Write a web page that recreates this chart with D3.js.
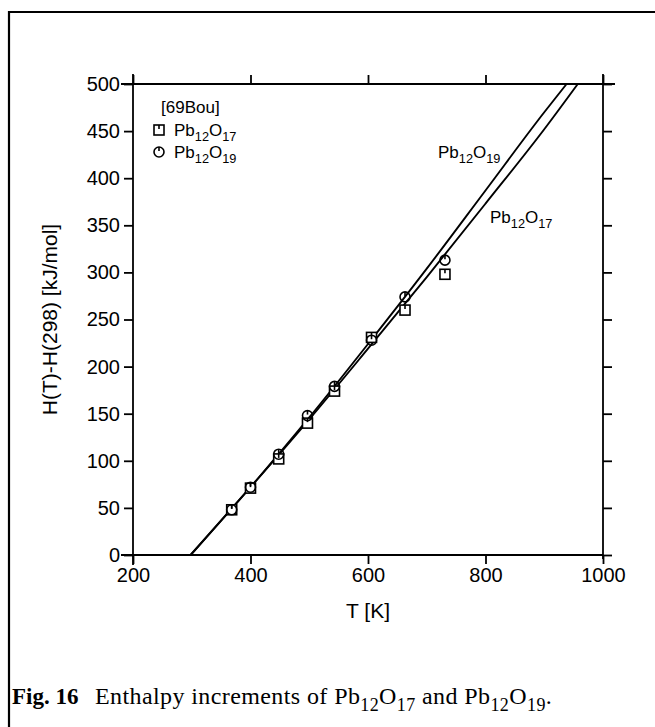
<!DOCTYPE html>
<html>
<head>
<meta charset="utf-8">
<script src="https://cdn.jsdelivr.net/npm/d3@7"></script>
<style>
  html, body { margin: 0; padding: 0; background: #fff; }
  svg { display: block; }
</style>
</head>
<body>
<div id="chart"></div>
<script>
// measured points [69Bou]
const tPoints = [368, 400, 448, 497, 543, 606, 663, 731];
const hPb12O17 = [48, 71, 102, 140, 174, 231, 260, 298];
const hPb12O19 = [48, 72, 107, 148, 179, 228, 274, 313];

// fitted curves
const tLine17 = [298, 400, 500, 600, 700, 800, 900, 957];
const hLine17 = [0, 72, 144, 219, 295, 373, 452, 500];
const tLine19 = [298, 400, 500, 600, 700, 800, 900, 938];
const hLine19 = [0, 72, 146, 224, 304, 387, 470, 500];

const xTicks = [200, 400, 600, 800, 1000];
const yTicks = [0, 50, 100, 150, 200, 250, 300, 350, 400, 450, 500];

const W = 655, H = 727;
const margin = {top: 84, right: 52, bottom: 172, left: 133};

const svg = d3.select("#chart").append("svg")
    .attr("width", W)
    .attr("height", H)
    .style("font-family", "Arial, 'Liberation Sans', sans-serif");

// outer frame of the figure (left and top only)
svg.append("path")
    .attr("d", `M9,${H} L9,12 L${W},12`)
    .attr("fill", "none")
    .attr("stroke", "#000")
    .attr("stroke-width", 2.2);

const x = d3.scaleLinear().domain([200, 1000]).range([margin.left, W - margin.right]);
const y = d3.scaleLinear().domain([0, 500]).range([H - margin.bottom, margin.top]);

const x0 = x.range()[0], x1 = x.range()[1];
const y0 = y.range()[0], y1 = y.range()[1];

// axes on all four sides, ticks outward
svg.append("g")
    .attr("transform", `translate(0,${y0})`)
    .call(d3.axisBottom(x).tickValues(xTicks).tickSize(9).tickPadding(4).tickFormat(d3.format("d")))
    .call(g => g.select(".domain").attr("d", `M${x0 - 12},0H${x1}`));

svg.append("g")
    .attr("transform", `translate(0,${y1})`)
    .call(d3.axisTop(x).tickValues(xTicks).tickSize(9).tickFormat(""))
    .call(g => g.select(".domain").attr("d", `M${x0 - 12},0H${x1 + 12}`));

svg.append("g")
    .attr("transform", `translate(${x0},0)`)
    .call(d3.axisLeft(y).tickValues(yTicks).tickSize(9).tickPadding(4))
    .call(g => g.select(".domain").attr("d", `M0,${y1 - 10}V${y0 + 10}`));

svg.append("g")
    .attr("transform", `translate(${x1},0)`)
    .call(d3.axisRight(y).tickValues(yTicks).tickSize(9).tickFormat(""))
    .call(g => g.select(".domain").attr("d", `M0,${y1 - 10}V${y0 + 4}`));

svg.selectAll(".domain, .tick line")
    .attr("stroke", "#000")
    .attr("stroke-width", 1.8);
svg.selectAll(".tick text")
    .attr("fill", "#000")
    .style("font-size", "20px")
    .style("font-family", "Arial, 'Liberation Sans', sans-serif");

// axis titles
svg.append("text")
    .attr("x", (x0 + x1) / 2)
    .attr("y", y0 + 63)
    .attr("text-anchor", "middle")
    .style("font-size", "21px")
    .text("T [K]");

svg.append("text")
    .attr("transform", `translate(57,${(y0 + y1) / 2}) rotate(-90)`)
    .attr("text-anchor", "middle")
    .style("font-size", "21px")
    .text("H(T)-H(298) [kJ/mol]");

// chemical formula with subscripts
function formula(sel, parts, size) {
  let back = 0;
  parts.forEach(([txt, sub]) => {
    sel.append("tspan").text(txt)
        .attr("dy", back)
        .style("font-size", size + "px");
    sel.append("tspan")
        .text(sub)
        .attr("dy", size * 0.3)
        .style("font-size", (size * 0.75) + "px");
    back = -size * 0.3;
  });
  return back;
}

const line = d3.line()
    .x(d => x(d[0]))
    .y(d => y(d[1]))
    .curve(d3.curveMonotoneX);

svg.append("path")
    .attr("d", line(d3.zip(tLine17, hLine17)))
    .attr("fill", "none")
    .attr("stroke", "#000")
    .attr("stroke-width", 1.9);

svg.append("path")
    .attr("d", line(d3.zip(tLine19, hLine19)))
    .attr("fill", "none")
    .attr("stroke", "#000")
    .attr("stroke-width", 1.9);

// markers
function square(g, cx, cy) {
  g.append("rect")
      .attr("x", cx - 5).attr("y", cy - 5)
      .attr("width", 10).attr("height", 10)
      .attr("fill", "#fff").attr("stroke", "#000").attr("stroke-width", 1.6);
  g.append("line")
      .attr("x1", cx).attr("x2", cx).attr("y1", cy - 5).attr("y2", cy - 1)
      .attr("stroke", "#000").attr("stroke-width", 1.6);
}
function circle(g, cx, cy) {
  g.append("circle")
      .attr("cx", cx).attr("cy", cy).attr("r", 5)
      .attr("fill", "none").attr("stroke", "#000").attr("stroke-width", 1.6);
  g.append("line")
      .attr("x1", cx).attr("x2", cx).attr("y1", cy - 5).attr("y2", cy - 1)
      .attr("stroke", "#000").attr("stroke-width", 1.6);
}

const pts = svg.append("g");
tPoints.forEach((t, i) => square(pts, x(t), y(hPb12O17[i])));
tPoints.forEach((t, i) => circle(pts, x(t), y(hPb12O19[i])));

// curve labels
svg.append("text").attr("x", 438).attr("y", 158)
    .call(formula, [["Pb", "12"], ["O", "19"]], 17);
svg.append("text").attr("x", 490).attr("y", 223)
    .call(formula, [["Pb", "12"], ["O", "17"]], 17);

// legend
svg.append("text").attr("x", 161).attr("y", 113)
    .style("font-size", "17px")
    .text("[69Bou]");
const leg = svg.append("g");
square(leg, 159, 130);
circle(leg, 159, 152);
svg.append("text").attr("x", 174).attr("y", 136)
    .call(formula, [["Pb", "12"], ["O", "17"]], 17);
svg.append("text").attr("x", 174).attr("y", 158)
    .call(formula, [["Pb", "12"], ["O", "19"]], 17);

// caption
const cap = svg.append("text")
    .attr("x", 12).attr("y", 704)
    .style("font-family", "'Liberation Serif', 'Times New Roman', serif")
    .style("font-size", "23px");
cap.append("tspan").style("font-weight", "bold").text("Fig. 16");
const capBody = svg.append("text")
    .attr("x", 95).attr("y", 704)
    .style("font-family", "'Liberation Serif', 'Times New Roman', serif")
    .style("font-size", "24px")
    .style("letter-spacing", "0.4px");
capBody.append("tspan").text("Enthalpy increments of ");
let back = formula(capBody, [["Pb", "12"], ["O", "17"]], 24);
capBody.append("tspan").attr("dy", back).text(" and ");
back = formula(capBody, [["Pb", "12"], ["O", "19"]], 24);
capBody.append("tspan").attr("dy", back).text(".");
</script>
</body>
</html>
